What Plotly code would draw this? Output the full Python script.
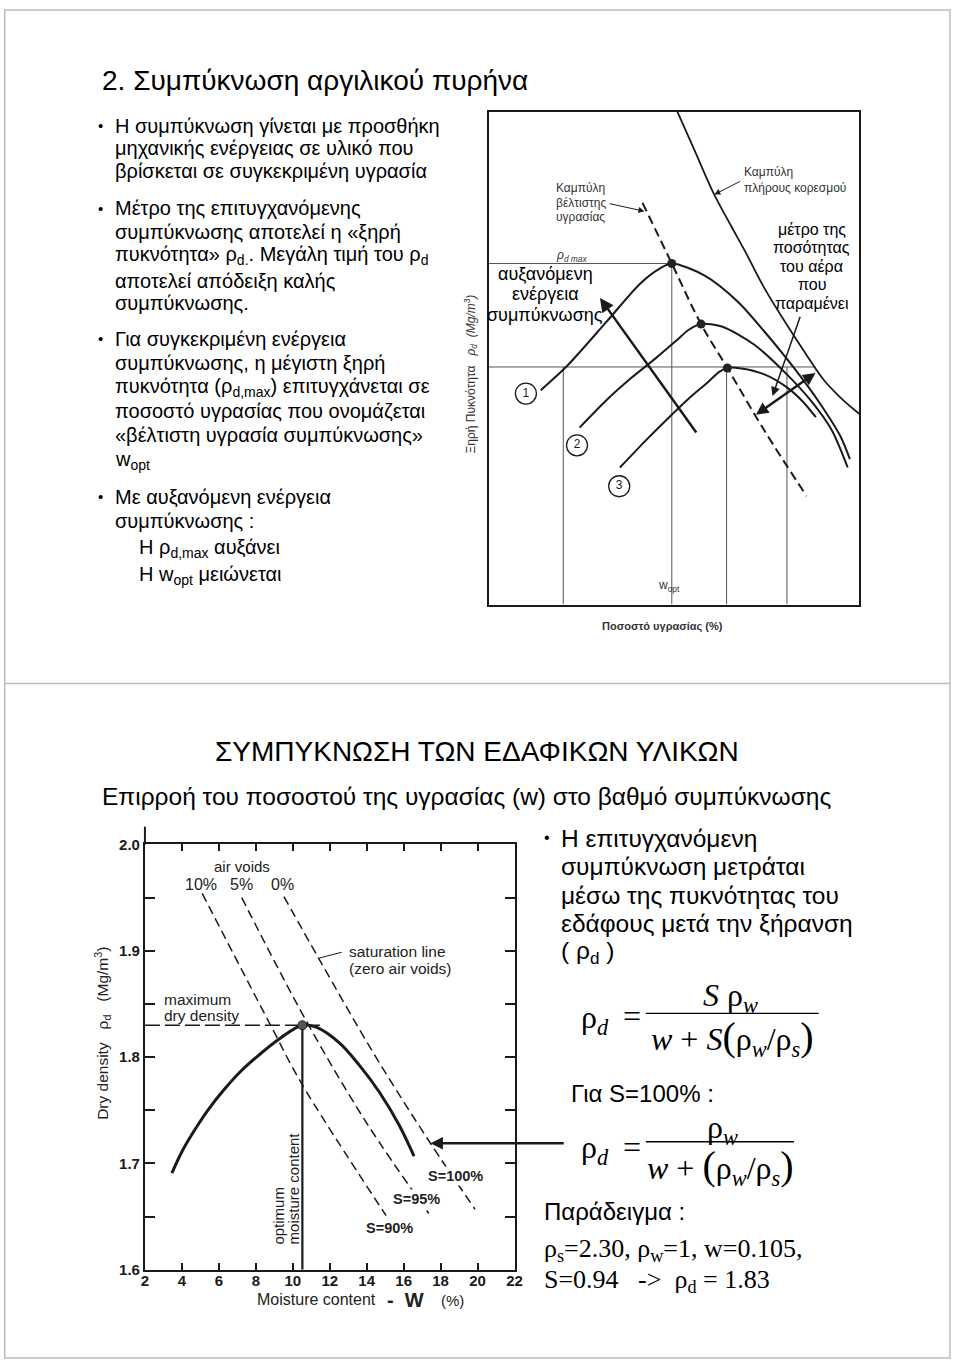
import plotly.graph_objects as go

W, H = 960, 1367
SANS = "Liberation Sans, Arial, sans-serif"
SERIF = "Liberation Serif, Times New Roman, serif"
INK = "#1a1a1a"

# ---------------- top schematic chart (relative units 0-100) ----------------
sat_w = [50.9, 55.7, 60.6, 65.5, 69.1, 74.4, 80.6, 86.0, 90.4, 94.8, 100]
sat_rho = [100, 91.9, 83.6, 76.7, 71.8, 64.2, 56.6, 50.4, 45.6, 42.1, 38.7]

c1_w = [14.0, 21.1, 31.8, 40.7, 46.0, 49.4, 58.4, 67.3, 74.4, 82.4, 89.5, 94.9, 97.5]
c1_rho = [43.5, 48.4, 57.4, 65.0, 68.1, 69.2, 66.7, 61.4, 55.4, 48.0, 40.7, 34.2, 29.5]
c2_w = [24.5, 31.8, 38.5, 45.1, 50.4, 53.9, 57.3, 62.9, 71.7, 80.6, 86.8, 92.5, 96.9]
c2_rho = [35.9, 41.5, 46.0, 50.0, 53.4, 55.7, 56.9, 56.4, 52.7, 46.6, 41.5, 35.5, 27.8]
c3_w = [35.4, 42.0, 48.0, 54.0, 59.3, 62.2, 64.4, 68.2, 74.4, 80.6, 85.0, 88.3]
c3_rho = [27.8, 33.0, 37.5, 41.8, 45.2, 47.2, 48.0, 47.9, 46.7, 44.0, 41.0, 38.0]

opt_w = [41.5, 49.4, 57.3, 64.4, 74.4, 85.8]
opt_rho = [81.5, 69.2, 56.9, 48.0, 35.3, 22.0]

peak_w = [49.4, 57.3, 64.4]
peak_rho = [69.2, 56.9, 48.0]

ref_h_w = [0, 49.4, None, 0, 88.2]
ref_h_rho = [69.2, 69.2, None, 48.2, 48.2]
ref_v_w = [20.1, 20.1, None, 49.4, 49.4, None, 64.2, 64.2, None, 80.5, 80.5]
ref_v_rho = [0, 48.2, None, 0, 69.2, None, 0, 48.0, None, 0, 48.2]

num_w = [10.0, 23.8, 35.2]
num_rho = [42.8, 32.3, 24.0]
num_lbl = ["1", "2", "3"]

# ---------------- bottom chart (real data) ----------------
comp_w = [3.46, 4.0, 4.53, 5.4, 6.31, 7.2, 8.1, 9.34, 10.52, 11.3, 12.55, 13.62, 14.69, 15.76, 16.56]
comp_rho = [1.691, 1.711, 1.727, 1.750, 1.770, 1.787, 1.801, 1.818, 1.830, 1.828, 1.813,
            1.792, 1.767, 1.736, 1.707]

s90_w = [5.1, 8.8, 10.45, 15.05]
s90_rho = [1.954, 1.830, 1.776, 1.651]
s95_w = [7.24, 10.7, 14.0, 17.36]
s95_rho = [1.950, 1.835, 1.738, 1.653]
s100_w = [9.52, 11.4, 14.5, 17.45, 19.86]
s100_rho = [1.951, 1.893, 1.800, 1.719, 1.657]

max_w = [2.0, 11.5]
max_rho = [1.83, 1.83]
opt_line_w = [10.52, 10.52]
opt_line_rho = [1.6, 1.83]
peak2_w = [10.52]
peak2_rho = [1.83]

x_ticks = list(range(2, 23, 2))
y_ticks = [1.6, 1.65, 1.7, 1.75, 1.8, 1.85, 1.9, 1.95, 2.0]
y_ticktext = ["1.6", "", "1.7", "", "1.8", "", "1.9", "", "2.0"]

fig = go.Figure()

# top chart traces
fig.add_trace(go.Scatter(x=ref_h_w, y=ref_h_rho, mode="lines", line=dict(color="#555", width=1), xaxis="x", yaxis="y"))
fig.add_trace(go.Scatter(x=ref_v_w, y=ref_v_rho, mode="lines", line=dict(color="#555", width=1), xaxis="x", yaxis="y"))
fig.add_trace(go.Scatter(x=sat_w, y=sat_rho, mode="lines", line=dict(color=INK, width=1.8, shape="spline"), xaxis="x", yaxis="y"))
for cw, cr in [(c1_w, c1_rho), (c2_w, c2_rho), (c3_w, c3_rho)]:
    fig.add_trace(go.Scatter(x=cw, y=cr, mode="lines", line=dict(color=INK, width=2, shape="spline", smoothing=0.8),
                             xaxis="x", yaxis="y"))
fig.add_trace(go.Scatter(x=opt_w, y=opt_rho, mode="lines", line=dict(color=INK, width=2, dash="9px,5px", shape="spline"),
                         xaxis="x", yaxis="y"))
fig.add_trace(go.Scatter(x=peak_w, y=peak_rho, mode="markers", marker=dict(color="#222", size=9), xaxis="x", yaxis="y"))
fig.add_trace(go.Scatter(x=num_w, y=num_rho, mode="markers+text", text=num_lbl, textposition="middle center",
                         textfont=dict(family=SANS, size=12, color=INK),
                         marker=dict(symbol="circle-open", size=21, color=INK, line=dict(width=1.3)),
                         xaxis="x", yaxis="y"))

# bottom chart traces
for sw, sr in [(s90_w, s90_rho), (s95_w, s95_rho), (s100_w, s100_rho)]:
    fig.add_trace(go.Scatter(x=sw, y=sr, mode="lines", line=dict(color=INK, width=1.5, dash="9px,5px", shape="spline"),
                             xaxis="x2", yaxis="y2"))
fig.add_trace(go.Scatter(x=max_w, y=max_rho, mode="lines", line=dict(color=INK, width=1.5, dash="15px,5px"),
                         xaxis="x2", yaxis="y2"))
fig.add_trace(go.Scatter(x=opt_line_w, y=opt_line_rho, mode="lines", line=dict(color=INK, width=2.2),
                         xaxis="x2", yaxis="y2"))
fig.add_trace(go.Scatter(x=comp_w, y=comp_rho, mode="lines", line=dict(color=INK, width=3, shape="spline"),
                         xaxis="x2", yaxis="y2"))
fig.add_trace(go.Scatter(x=peak2_w, y=peak2_rho, mode="markers",
                         marker=dict(color="#555", size=9, line=dict(color="#222", width=1)),
                         xaxis="x2", yaxis="y2"))


def P(x, y):
    return x / W, 1 - y / H


ann = []


def txt(x, y, s, size=20, family=SANS, color="#000", xanchor="left", yanchor="middle", angle=0, align="left"):
    px, py = P(x, y)
    ann.append(dict(x=px, y=py, xref="paper", yref="paper", text=s, showarrow=False, xanchor=xanchor,
                    yanchor=yanchor, textangle=angle, align=align,
                    font=dict(family=family, size=size, color=color)))


def dtxt(x, y, s, xr, yr, size=12, family=SANS, color="#222", xanchor="center", yanchor="middle", angle=0,
         bg=None):
    d = dict(x=x, y=y, xref=xr, yref=yr, text=s, showarrow=False, xanchor=xanchor, yanchor=yanchor,
             textangle=angle, font=dict(family=family, size=size, color=color))
    if bg:
        d["bgcolor"] = bg
    ann.append(d)


def arrow(x, y, ax, ay, xr, yr, width=2, size=1.0, head=2, both=False):
    d = dict(x=x, y=y, ax=ax, ay=ay, xref=xr, yref=yr, axref=xr, ayref=yr, text="", showarrow=True,
             arrowhead=head, arrowsize=size, arrowwidth=width, arrowcolor=INK)
    if both:
        d["arrowside"] = "end+start"
        d["startarrowhead"] = head
        d["startarrowsize"] = size
    ann.append(d)


# ----- top slide left text -----
txt(97, 72, "2. Συμπύκνωση αργιλικού πυρήνα", size=28)
bul_x, tx = 93, 110
lines = [
    (118, "Η συμπύκνωση γίνεται με προσθήκη", True),
    (141, "μηχανικής ενέργειας σε υλικό που", False),
    (164, "βρίσκεται σε συγκεκριμένη υγρασία", False),
    (202, "Μέτρο της επιτυγχανόμενης", True),
    (226, "συμπύκνωσης αποτελεί η «ξηρή", False),
    (250, "πυκνότητα» ρ<sub>d.</sub>. Μεγάλη τιμή του ρ<sub>d</sub>", False),
    (275, "αποτελεί απόδειξη καλής", False),
    (298, "συμπύκνωσης.", False),
    (334, "Για συγκεκριμένη ενέργεια", True),
    (358, "συμπύκνωσης, η μέγιστη ξηρή", False),
    (383, "πυκνότητα (ρ<sub>d,max</sub>) επιτυγχάνεται σε", False),
    (407, "ποσοστό υγρασίας που ονομάζεται", False),
    (431, "«βέλτιστη υγρασία συμπύκνωσης»", False),
    (457, "w<sub>opt</sub>", False),
    (494, "Με αυξανόμενη ενέργεια", True),
    (518, "συμπύκνωσης :", False),
]
for y, s, b in lines:
    if b:
        txt(bul_x, y, "•", size=15)
    txt(tx, y, s, size=20)
txt(135, 546, "Η ρ<sub>d,max</sub> αυξάνει", size=20)
txt(135, 574, "Η w<sub>opt</sub> μειώνεται", size=20)

# ----- top chart labels -----
txt(557, 181, "Καμπύλη", size=12, color="#333")
txt(557, 196, "βέλτιστης", size=12, color="#333")
txt(557, 211, "υγρασίας", size=12, color="#333")
txt(575, 250, "<i>ρ<sub>d max</sub></i>", size=12, color="#333", xanchor="center")
txt(747, 165, "Καμπύλη", size=12, color="#333")
txt(747, 181, "πλήρους κορεσμού", size=12, color="#333")
txt(548, 268, "αυξανόμενη", size=18, xanchor="center")
txt(548, 289, "ενέργεια", size=18, xanchor="center")
txt(548, 310, "συμπύκνωσης", size=18, xanchor="center")
for i, s in enumerate(["μέτρο της", "ποσότητας", "του αέρα", "που", "παραμένει"]):
    txt(818, 223 + i * 18.8, s, size=16, xanchor="center")
txt(673, 584, "w<sub>opt</sub>", size=12, color="#333", xanchor="center")
txt(667, 625, "<b>Ποσοστό υγρασίας (%)</b>", size=11, color="#333", xanchor="center")
txt(473, 370, "Ξηρή Πυκνότητα   <i>ρ<sub>d</sub>  (Mg/m<sup>3</sup>)</i>", size=12, color="#333",
    xanchor="center", angle=-90)

arrow(30.0, 62.2, 56.3, 34.6, "x", "y", width=2.5, size=1.1)
arrow(88.2, 47.0, 71.7, 38.3, "x", "y", width=2.5, size=1.0, both=True)
arrow(76.6, 42.3, 84.2, 58.7, "x", "y", width=1.5, size=1.2)
arrow(60.9, 83.2, 68.2, 86.0, "x", "y", width=1, size=1.2)
arrow(42.0, 79.8, 32.2, 81.4, "x", "y", width=1, size=1.2)

# ----- bottom slide titles -----
txt(479, 752, "ΣΥΜΠΥΚΝΩΣΗ ΤΩΝ ΕΔΑΦΙΚΩΝ ΥΛΙΚΩΝ", size=28, xanchor="center")
txt(468, 797, "Επιρροή του ποσοστού της υγρασίας (w) στο βαθμό συμπύκνωσης", size=24.5, xanchor="center")

# ----- bottom chart labels -----
dtxt(7.26, 1.979, "air voids", "x2", "y2", size=15)
dtxt(5.01, 1.962, "10%", "x2", "y2", size=16)
dtxt(7.20, 1.962, "5%", "x2", "y2", size=16)
dtxt(9.45, 1.962, "0%", "x2", "y2", size=16)
dtxt(12.91, 1.899, "saturation line", "x2", "y2", size=15.5, xanchor="left")
dtxt(12.91, 1.883, "(zero air voids)", "x2", "y2", size=15.5, xanchor="left")
dtxt(2.93, 1.854, "maximum", "x2", "y2", size=15.5, xanchor="left")
dtxt(2.93, 1.839, "dry density", "x2", "y2", size=15.5, xanchor="left")
dtxt(18.81, 1.688, "<b>S=100%</b>", "x2", "y2", size=14.5, bg="white")
dtxt(16.72, 1.667, "<b>S=95%</b>", "x2", "y2", size=14.5, bg="white")
dtxt(15.22, 1.639, "<b>S=90%</b>", "x2", "y2", size=14.5, bg="white")
dtxt(9.21, 1.622, "optimum", "x2", "y2", size=15, yanchor="bottom", angle=-90)
dtxt(10.01, 1.622, "moisture content", "x2", "y2", size=15, yanchor="bottom", angle=-90)
arrow(11.39, 1.893, 12.73, 1.899, "x2", "y2", width=1, size=0.6, head=0)
arrow(17.45, 1.719, 24.74, 1.719, "x2", "y2", width=2.5, size=1.0)

txt(100, 1037, "Dry density   ρ<sub>d</sub>   (Mg/m<sup>3</sup>)", size=15.5, color="#222", xanchor="center", angle=-90)
txt(316, 1307, "Moisture content", size=16, color="#222", xanchor="center")
txt(407, 1307, "<b>-  W</b>", size=20, color="#222", xanchor="center")
txt(454, 1308, "(%)", size=15, color="#222", xanchor="center")

# ----- bottom right text -----
txt(545, 839, "•", size=16)
for i, s in enumerate(["Η επιτυγχανόμενη", "συμπύκνωση μετράται", "μέσω της πυκνότητας του",
                       "εδάφους μετά την ξήρανση", "( ρ<sub>d</sub> )"]):
    txt(562, 840 + i * 28.8, s, size=24.5)

BIG = '<span style="font-size:40px">'
txt(598, 1023, "ρ<sub><i>d</i></sub>", size=32, family=SERIF, xanchor="center")
txt(636, 1020, "=", size=32, family=SERIF, xanchor="center")
txt(736, 1001, "<i>S</i> ρ<sub><i>w</i></sub>", size=32, family=SERIF, xanchor="center")
txt(738, 1042, "<i>w</i> + <i>S</i>" + BIG + "(</span>ρ<sub><i>w</i></sub>/ρ<sub><i>s</i></sub>" + BIG + ")</span>",
    size=32, family=SERIF, xanchor="center")

txt(572, 1098, "Για S=100% :", size=24)
txt(598, 1155, "ρ<sub><i>d</i></sub>", size=32, family=SERIF, xanchor="center")
txt(636, 1152, "=", size=32, family=SERIF, xanchor="center")
txt(728, 1135, "ρ<sub><i>w</i></sub>", size=32, family=SERIF, xanchor="center")
txt(726, 1173, "<i>w</i> + " + BIG + "(</span>ρ<sub><i>w</i></sub>/ρ<sub><i>s</i></sub>" + BIG + ")</span>",
    size=32, family=SERIF, xanchor="center")

txt(545, 1218, "Παράδειγμα :", size=24)
txt(545, 1257, "ρ<sub>s</sub>=2.30, ρ<sub>w</sub>=1, w=0.105,", size=26, family=SERIF)
txt(545, 1288, "S=0.94   ->  ρ<sub>d</sub> = 1.83", size=26, family=SERIF)

# ----- shapes: slide borders, fraction bars -----
shapes = []


def pline(x0, y0, x1, y1, color="#bdbdbd", width=1.5):
    a0, b0 = P(x0, y0)
    a1, b1 = P(x1, y1)
    shapes.append(dict(type="line", xref="paper", yref="paper", x0=a0, y0=b0, x1=a1, y1=b1,
                       line=dict(color=color, width=width)))


pline(0, 1, 958, 1)
pline(0.7, 0, 0.7, 1367)
pline(958, 0, 958, 1367)
pline(0, 683, 958, 683)
pline(0, 1366, 958, 1366)
pline(650, 1017, 825, 1017, color="#000", width=1.3)
pline(650, 1147, 800, 1147, color="#000", width=1.3)
pline(142.7, 828, 142.7, 846, color=INK, width=2)

fig.update_layout(
    width=W, height=H, margin=dict(l=0, r=0, t=0, b=0),
    paper_bgcolor="white", plot_bgcolor="rgba(0,0,0,0)", showlegend=False,
    annotations=ann, shapes=shapes,
    xaxis=dict(domain=[491 / W, 866 / W], range=[0, 100], showticklabels=False, ticks="", showgrid=False,
               zeroline=False, showline=True, linecolor=INK, linewidth=1.5, mirror=True, anchor="y"),
    yaxis=dict(domain=[1 - 603 / H, 1 - 104 / H], range=[0, 100], showticklabels=False, ticks="",
               showgrid=False, zeroline=False, showline=True, linecolor=INK, linewidth=1.5, mirror=True,
               anchor="x"),
    xaxis2=dict(domain=[142.7 / W, 517 / W], range=[2, 22], tickvals=x_ticks, ticks="inside", ticklen=7,
                tickwidth=2, tickcolor=INK, showgrid=False, zeroline=False, showline=True, linecolor=INK,
                linewidth=2, mirror="ticks", anchor="y2", ticklabelstandoff=-4,
                tickfont=dict(family=SANS, size=15, color=INK, weight="bold")),
    yaxis2=dict(domain=[1 - 1276.7 / H, 1 - 846 / H], range=[1.6, 2.0], tickvals=y_ticks, ticktext=y_ticktext,
                ticks="inside", ticklen=10, tickwidth=2, tickcolor=INK, showgrid=False, zeroline=False,
                showline=True, linecolor=INK, linewidth=2, mirror="ticks", anchor="x2",
                tickfont=dict(family=SANS, size=15, color=INK, weight="bold")),
)

fig.write_html("out.html", config={"displayModeBar": False},
               post_script="document.body.style.margin='0';document.body.style.overflow='hidden';")
